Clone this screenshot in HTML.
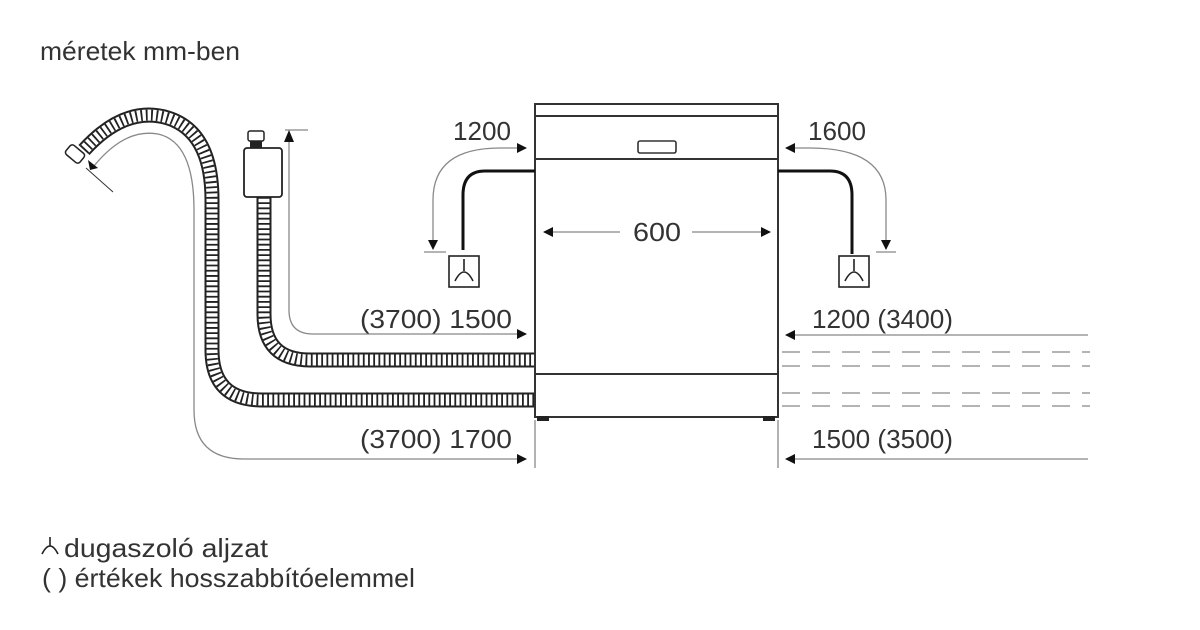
<!DOCTYPE html>
<html><head><meta charset="utf-8"><style>
html,body{margin:0;padding:0;background:#fff;}
svg{display:block;}
text{font-family:"Liberation Sans",sans-serif;fill:#333;font-size:26px;}
</style></head><body>
<svg width="1200" height="630" viewBox="0 0 1200 630" xmlns="http://www.w3.org/2000/svg">
<defs>
<marker id="ah" markerWidth="10" markerHeight="10" refX="9" refY="5" orient="auto" markerUnits="userSpaceOnUse">
<path d="M0,0 L10,5 L0,10 Z" fill="#111"/>
</marker>
</defs>
<text x="40" y="60" textLength="200" lengthAdjust="spacingAndGlyphs">méretek mm-ben</text>

<g fill="none">
<path d="M84,150 Q125,105 168,118 Q212,132 212,200 L212,350 Q212,400 262,400 L534,400" stroke="#222" stroke-width="15"/>
<path d="M84,150 Q125,105 168,118 Q212,132 212,200 L212,350 Q212,400 262,400 L534,400" stroke="#fff" stroke-width="11"/>
<path d="M84,150 Q125,105 168,118 Q212,132 212,200 L212,350 Q212,400 262,400 L534,400" stroke="#222" stroke-width="11" stroke-dasharray="1.8 3.4"/>
<path d="M264,197 L264,314 Q264,360 310,360 L534,360" stroke="#222" stroke-width="15"/>
<path d="M264,197 L264,314 Q264,360 310,360 L534,360" stroke="#fff" stroke-width="11"/>
<path d="M264,197 L264,314 Q264,360 310,360 L534,360" stroke="#222" stroke-width="11" stroke-dasharray="1.8 3.4"/>
</g>
<rect x="66" y="148" width="18" height="12" rx="3" fill="#fff" stroke="#222" stroke-width="1.5" transform="rotate(40 75 154)"/>
<line x1="86" y1="168" x2="113" y2="192" stroke="#333" stroke-width="1"/>
<rect x="244" y="148" width="38" height="49" rx="3" fill="#fff" stroke="#222" stroke-width="1.8"/>
<rect x="248" y="131" width="16" height="10" rx="2" fill="#fff" stroke="#222" stroke-width="1.5"/>
<rect x="250" y="141" width="12" height="7" fill="#222"/>

<g fill="none" stroke="#888" stroke-width="1.3">
<path d="M94,166 Q125,128 158,134 Q194,142 194,210 L194,410 Q194,459 244,459 L526,459" marker-end="url(#ah)"/>
<path d="M289,136 L289,310 Q289,334 313,334 L526,334" marker-end="url(#ah)"/>
<path d="M500,148 Q433,148 433,200 L433,249" marker-end="url(#ah)"/>
<path d="M810,148 Q886,148 886,200 L886,249" marker-end="url(#ah)"/>
<line x1="1088" y1="335" x2="786" y2="335" marker-end="url(#ah)"/>
<line x1="1088" y1="459" x2="786" y2="459" marker-end="url(#ah)"/>
<line x1="535" y1="420" x2="535" y2="468"/>
<line x1="778" y1="420" x2="778" y2="468"/>
<line x1="285" y1="130" x2="308" y2="130"/>
<line x1="424" y1="252" x2="446" y2="252"/>
<line x1="876" y1="252" x2="896" y2="252"/>
<g stroke-dasharray="18 12"><line x1="782" y1="352" x2="1090" y2="352"/><line x1="782" y1="366" x2="1090" y2="366"/><line x1="782" y1="393" x2="1090" y2="393"/><line x1="782" y1="406" x2="1090" y2="406"/></g>
</g>
<path d="M289,130 L284,142 L294,142 Z" fill="#111"/>
<path d="M90,170 L88,160 L98,168 Z" fill="#111"/>
<line x1="500" y1="148" x2="526" y2="148" stroke="#888" stroke-width="1.3" marker-end="url(#ah)"/>
<line x1="810" y1="148" x2="786" y2="148" stroke="#888" stroke-width="1.3" marker-end="url(#ah)"/>

<g fill="none" stroke="#333" stroke-width="2">
<rect x="535" y="104" width="243" height="313" fill="#fff"/>
<line x1="535" y1="116" x2="778" y2="116"/>
<line x1="535" y1="159" x2="778" y2="159"/>
<line x1="535" y1="374" x2="778" y2="374"/>
<rect x="638" y="141" width="38" height="12" rx="2" stroke-width="1.6"/>
</g>
<rect x="537" y="416" width="12" height="5" fill="#222"/>
<rect x="763" y="416" width="12" height="5" fill="#222"/>
<line x1="620" y1="232" x2="544" y2="232" stroke="#888" stroke-width="1.3" marker-end="url(#ah)"/>
<line x1="692" y1="232" x2="770" y2="232" stroke="#888" stroke-width="1.3" marker-end="url(#ah)"/>

<g fill="none" stroke="#111" stroke-width="3">
<path d="M535,171 L485,171 Q463,171 463,195 L463,250"/>
<path d="M778,171 L830,171 Q852,171 852,195 L852,254"/>
</g>
<g fill="none" stroke="#222" stroke-width="1.6">
<rect x="449" y="256" width="30" height="31"/>
<path d="M464,259 L464,271 M455,281 Q464,263 473,281"/>
<rect x="839" y="256" width="30" height="31"/>
<path d="M854,259 L854,271 M845,281 Q854,263 863,281"/>
<path d="M50,537 L50,546 M42,554 Q50,538 58,554"/>
</g>

<text x="453" y="140" textLength="58" lengthAdjust="spacingAndGlyphs">1200</text>
<text x="808" y="140" textLength="58" lengthAdjust="spacingAndGlyphs">1600</text>
<text x="633" y="241" textLength="48" lengthAdjust="spacingAndGlyphs">600</text>
<text x="360" y="328" textLength="152" lengthAdjust="spacingAndGlyphs">(3700) 1500</text>
<text x="812" y="328" textLength="141" lengthAdjust="spacingAndGlyphs">1200 (3400)</text>
<text x="360" y="448" textLength="152" lengthAdjust="spacingAndGlyphs">(3700) 1700</text>
<text x="812" y="448" textLength="141" lengthAdjust="spacingAndGlyphs">1500 (3500)</text>
<text x="64" y="557" textLength="204" lengthAdjust="spacingAndGlyphs">dugaszoló aljzat</text>
<text x="42" y="587" textLength="373" lengthAdjust="spacingAndGlyphs">( ) értékek hosszabbítóelemmel</text>
</svg>
</body></html>
